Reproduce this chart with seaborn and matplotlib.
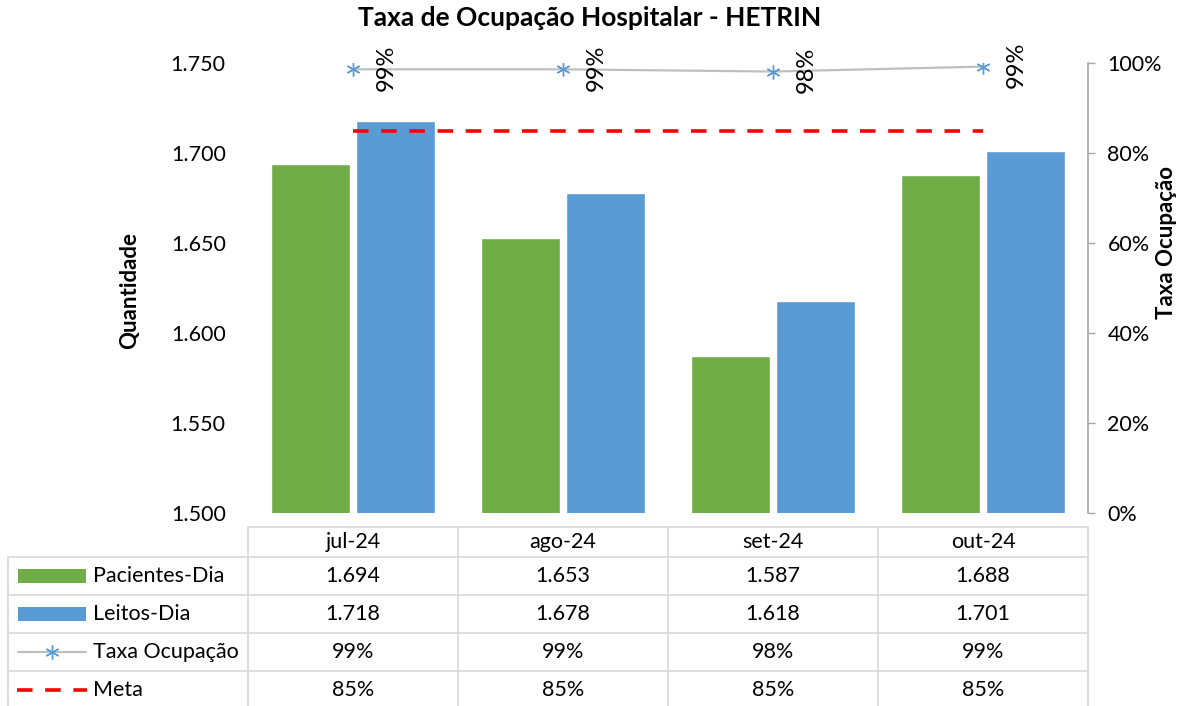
import numpy as np
import pandas as pd
import matplotlib
matplotlib.use("Agg")
import matplotlib.pyplot as plt
from matplotlib.patches import Rectangle
from matplotlib.lines import Line2D
from matplotlib.ticker import FuncFormatter, PercentFormatter, MultipleLocator
import seaborn as sns

# ---------------- data ----------------
months = ["jul-24", "ago-24", "set-24", "out-24"]
pacientes_dia = [1694, 1653, 1587, 1688]
leitos_dia = [1718, 1678, 1618, 1701]
taxa_ocupacao = [0.986, 0.986, 0.981, 0.992]
meta = [0.85, 0.85, 0.85, 0.85]
series_names = ["Pacientes-Dia", "Leitos-Dia", "Taxa Ocupação", "Meta"]
title = "Taxa de Ocupação Hospitalar - HETRIN"

GREEN = "#70AD47"
BLUE = "#5B9BD5"
GRAY_LINE = "#BFBFBF"
RED = "#FF0000"
GRID = "#D9D9D9"

sns.set_theme(style="white")
plt.rcParams["font.family"] = ["Lato", "DejaVu Sans"]
plt.rcParams["text.color"] = "black"
FS = 15.5

W, H = 1186, 706
fig = plt.figure(figsize=(W / 100, H / 100), dpi=100)

# plot area in pixels
L, R, T, B = 248, 1088, 63, 513
ax = fig.add_axes([L / W, (H - B) / H, (R - L) / W, (B - T) / H])

df = pd.DataFrame({
    "Mês": months * 2,
    "Série": [series_names[0]] * 4 + [series_names[1]] * 4,
    "Valor": pacientes_dia + leitos_dia,
})
sns.barplot(data=df, x="Mês", y="Valor", hue="Série", order=months,
            hue_order=series_names[:2], palette=[GREEN, BLUE], saturation=1,
            width=0.81, gap=0.06, ax=ax, legend=False)
ax.set_ylim(1500, 1750)
ax.set_xlim(-0.5, len(months) - 0.5)
ax.yaxis.set_major_locator(MultipleLocator(50))
ax.yaxis.set_major_formatter(FuncFormatter(lambda v, p: f"{v:,.0f}".replace(",", ".")))
ax.tick_params(axis="y", length=0, pad=16, labelsize=FS, colors="black")
ax.set_xticks([])
ax.set_xlabel("")
ax.set_ylabel("Quantidade", fontsize=16, fontweight="bold", color="black")
ax.yaxis.set_label_coords(-0.1286, 0.4955)
for s in ax.spines.values():
    s.set_visible(False)

ax2 = ax.twinx()
x = np.arange(len(months))
sns.lineplot(x=x, y=taxa_ocupacao, ax=ax2, color=GRAY_LINE, linewidth=1.6,
             marker=(6, 2, 0), markersize=10, markeredgecolor=BLUE,
             markerfacecolor=BLUE, markeredgewidth=1.0)
sns.lineplot(x=x, y=meta, ax=ax2, color=RED, linewidth=2.6, linestyle="--")
ax2.lines[-1].set_dashes((4.3, 3.5))
ax2.set_ylim(0, 1)
ax2.set_xlim(-0.5, len(months) - 0.5)
ax2.yaxis.set_major_locator(MultipleLocator(0.2))
ax2.yaxis.set_major_formatter(PercentFormatter(1.0, decimals=0))
ax2.tick_params(axis="y", direction="out", length=5, width=1, color="#A6A6A6",
                pad=9, labelsize=FS, colors="black", right=True)
ax2.tick_params(axis="y", color="#A6A6A6")
ax2.set_ylabel("Taxa Ocupação", fontsize=16, fontweight="bold", color="black",
               rotation=90)
ax2.yaxis.set_label_coords(1.0805, 0.602)
for k, s in ax2.spines.items():
    s.set_visible(k == "right")
ax2.spines["right"].set_color("#A6A6A6")
ax2.spines["right"].set_linewidth(1.2)

for i, v in enumerate(taxa_ocupacao):
    ax2.annotate(f"{int(v * 100 + 0.5)}%", (i, v), xytext=(24, 1),
                 textcoords="offset points", rotation=90, ha="center",
                 va="center", fontsize=17)

fig.text(590 / W, 1 - 18 / H, title, ha="center", va="center",
         fontsize=19, fontweight="bold")

# ---------------- data table ----------------
tab = fig.add_axes([0, 0, 1, 1], zorder=-1)
tab.set_xlim(0, W)
tab.set_ylim(H, 0)
tab.axis("off")

col_w = (R - L) / len(months)
col_edges = [L + col_w * i for i in range(len(months) + 1)]
row_edges = [527, 557, 595, 633, 671, 709]
left_x = 8
lw = 1.2

tab.plot([L, R], [row_edges[0]] * 2, color=GRID, lw=lw)
for y in row_edges[1:5]:
    tab.plot([left_x, R], [y, y], color=GRID, lw=lw)
tab.plot([left_x, left_x], [row_edges[1], H], color=GRID, lw=lw)
for xe in col_edges:
    tab.plot([xe, xe], [row_edges[0], H], color=GRID, lw=lw)

def rc(r):
    return (row_edges[r] + row_edges[r + 1]) / 2

for j, m in enumerate(months):
    cx = (col_edges[j] + col_edges[j + 1]) / 2
    tab.text(cx, rc(0), m, ha="center", va="center", fontsize=FS)
    tab.text(cx, rc(1), f"{pacientes_dia[j]:,}".replace(",", "."),
             ha="center", va="center", fontsize=FS)
    tab.text(cx, rc(2), f"{leitos_dia[j]:,}".replace(",", "."),
             ha="center", va="center", fontsize=FS)
    tab.text(cx, rc(3), f"{int(taxa_ocupacao[j] * 100 + 0.5)}%",
             ha="center", va="center", fontsize=FS)
    tab.text(cx, rc(4), f"{int(meta[j] * 100 + 0.5)}%",
             ha="center", va="center", fontsize=FS)

sw_x0, sw_x1 = 18, 86
for r, col in ((1, GREEN), (2, BLUE)):
    tab.add_patch(Rectangle((sw_x0, rc(r) - 7), sw_x1 - sw_x0, 14,
                            facecolor=col, edgecolor="none"))
tab.add_line(Line2D([sw_x0, sw_x1], [rc(3), rc(3)], color=GRAY_LINE, lw=1.6))
tab.add_line(Line2D([(sw_x0 + sw_x1) / 2], [rc(3)], color=BLUE,
                    marker=(6, 2, 0), markersize=10, markeredgewidth=1.0, lw=0))
ml = Line2D([sw_x0 - 1, sw_x1 + 1], [rc(4), rc(4)], color=RED, lw=2.6)
ml.set_dashes((4.3, 3.5))
tab.add_line(ml)
for r in range(1, 5):
    tab.text(93, rc(r), series_names[r - 1], ha="left", va="center", fontsize=FS)

fig.savefig("out.png", dpi=100, facecolor="white")
